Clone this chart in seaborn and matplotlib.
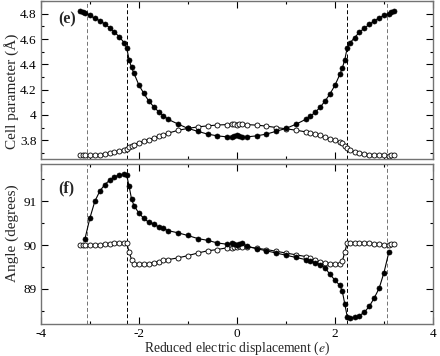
import numpy as np
import pandas as pd
import matplotlib
matplotlib.use("Agg")
import matplotlib.pyplot as plt
import seaborn as sns
from matplotlib.ticker import MultipleLocator, FormatStrFormatter

# reduced electric displacement (e), shared by both panels
disp = [-3.2, -3.15, -3.1, -3.0, -2.9, -2.8, -2.7, -2.6, -2.5, -2.4, -2.3, -2.25,
        -2.2, -2.15, -2.1, -2.0, -1.9, -1.8, -1.7, -1.6, -1.5, -1.4, -1.2, -1.0,
        -0.8, -0.6, -0.4, -0.2, -0.1, -0.05, 0.0,
        0.05, 0.1, 0.2, 0.4, 0.6, 0.8, 1.0, 1.2, 1.4, 1.5, 1.6, 1.7, 1.8, 1.9,
        2.0, 2.1, 2.15, 2.2, 2.25, 2.3, 2.4, 2.5, 2.6, 2.7, 2.8, 2.9, 3.0, 3.1,
        3.15, 3.2]

# panel (e): cell parameters (Angstrom)
cell_filled = [4.825, 4.815, 4.805, 4.787, 4.763, 4.745, 4.72, 4.69, 4.655, 4.617, 4.57, 4.53,
               4.435, 4.375, 4.328, 4.235, 4.17, 4.11, 4.065, 4.025, 3.993, 3.964, 3.927, 3.893,
               3.87, 3.848, 3.834, 3.826, 3.822, 3.83, 3.84,
               3.83, 3.822, 3.826, 3.834, 3.848, 3.87, 3.893, 3.925, 3.964, 3.99, 4.022, 4.062,
               4.11, 4.167, 4.234, 4.32, 4.37, 4.435, 4.53, 4.567, 4.61, 4.655, 4.686, 4.715,
               4.742, 4.766, 4.787, 4.80, 4.813, 4.824]
cell_open = [3.681, 3.681, 3.679, 3.679, 3.682, 3.685, 3.69, 3.695, 3.703, 3.712, 3.722, 3.733,
             3.745, 3.757, 3.765, 3.779, 3.792, 3.805, 3.816, 3.83, 3.843, 3.856, 3.878, 3.893,
             3.905, 3.913, 3.92, 3.923, 3.925, 3.925, 3.92,
             3.925, 3.925, 3.923, 3.919, 3.911, 3.90, 3.89, 3.879, 3.866, 3.858, 3.848, 3.837,
             3.824, 3.81, 3.80, 3.786, 3.774, 3.755, 3.737, 3.721, 3.707, 3.70, 3.691, 3.686,
             3.683, 3.681, 3.679, 3.678, 3.68, 3.681]

# panel (f): angle (degrees)
angle_filled = [np.nan, np.nan, 90.15, 90.62, 91.0, 91.23, 91.38, 91.48, 91.56, 91.6, 91.62, 91.6,
                91.34, 91.05, 90.9, 90.73, 90.61, 90.52, 90.48, 90.42, 90.38, 90.33, 90.28, 90.22,
                90.15, 90.11, 90.05, 90.02, 90.04, 90.03, 90.01,
                90.03, 90.06, 89.98, 89.92, 89.87, 89.82, 89.77, 89.72, 89.67, 89.63, 89.59, 89.55,
                89.48, 89.33, 89.2, 89.08, 88.95, 88.66, 88.37, 88.34, 88.35, 88.39, 88.47, 88.6,
                88.79, 89.01, 89.37, 89.84, np.nan, np.nan]
angle_open = [90.0, 90.0, 90.0, 90.0, 90.005, 90.01, 90.02, 90.03, 90.04, 90.05, 90.06, 90.05,
              89.84, 89.67, 89.58, 89.56, 89.57, 89.58, 89.6, 89.62, 89.65, 89.67, 89.71, 89.76,
              89.82, 89.87, 89.9, 89.94, 89.94, 89.96, 89.96,
              89.97, 89.96, 89.96, 89.93, 89.9, 89.86, 89.82, 89.78, 89.74, 89.7, 89.66, 89.62,
              89.59, 89.58, 89.57, 89.58, 89.63, 89.84, 90.05, 90.06, 90.06, 90.06, 90.05, 90.04,
              90.03, 90.02, 90.01, 90.01, 90.02, 90.02]

transitions = [-3.06, -2.25, 2.25, 3.06]
dash_colors = ["0.45", "black", "black", "0.45"]

sns.set_style("ticks")
plt.rcParams["font.family"] = ["Liberation Serif", "DejaVu Serif"]
plt.rcParams["mathtext.fontset"] = "stix"
plt.rcParams["axes.unicode_minus"] = False

fig = plt.figure(figsize=(4.4, 3.56), dpi=100)
ax1 = fig.add_axes([0.093, 0.553, 0.891, 0.444])
ax2 = fig.add_axes([0.093, 0.090, 0.891, 0.449])

df = pd.DataFrame({"disp": disp, "cell_f": cell_filled, "cell_o": cell_open,
                   "ang_f": angle_filled, "ang_o": angle_open})

filled_kw = dict(color="black", lw=0.8, marker="o", markersize=3.6,
                 markerfacecolor="black", markeredgecolor="black", markeredgewidth=0.5)
open_kw = dict(color="black", lw=0.8, marker="o", markersize=3.6,
               markerfacecolor="white", markeredgecolor="black", markeredgewidth=0.6)

for ax, f, o in [(ax1, "cell_f", "cell_o"), (ax2, "ang_f", "ang_o")]:
    sns.lineplot(data=df, x="disp", y=o, ax=ax, estimator=None, **open_kw)
    sns.lineplot(data=df, x="disp", y=f, ax=ax, estimator=None, **filled_kw)
    for xv, c in zip(transitions, dash_colors):
        ax.axvline(xv, color=c, lw=0.7, ls=(0, (4, 2.5)), zorder=1)
    ax.set_xlim(-4, 4)
    ax.xaxis.set_major_locator(MultipleLocator(2))
    ax.xaxis.set_minor_locator(MultipleLocator(1))
    ax.tick_params(which="both", direction="in", top=True, right=True,
                   labelsize=9.5, width=0.8, colors="black", pad=3)
    ax.tick_params(which="major", length=5)
    ax.tick_params(which="minor", length=2.5)
    for s in ax.spines.values():
        s.set_linewidth(1.0)
        s.set_color("0.45")

ax1.set_ylim(3.65, 4.9)
ax1.yaxis.set_major_locator(MultipleLocator(0.2))
ax1.yaxis.set_minor_locator(MultipleLocator(0.1))
ax1.yaxis.set_major_formatter(FormatStrFormatter("%g"))
ax1.set_xlabel("")
ax1.tick_params(labelbottom=False)
ax1.set_ylabel("Cell parameter (Å)", fontsize=11)
ax1.yaxis.set_label_coords(-0.057, 0.43)
ax1.text(0.045, 0.86, "(e)", transform=ax1.transAxes, fontsize=11.5, fontweight="bold")

ax2.set_ylim(88.2, 91.85)
ax2.yaxis.set_major_locator(MultipleLocator(1))
ax2.yaxis.set_minor_locator(MultipleLocator(0.5))
ax2.yaxis.set_major_formatter(FormatStrFormatter("%g"))
ax2.set_ylabel("Angle (degrees)", fontsize=11)
ax2.yaxis.set_label_coords(-0.057, 0.57)
ax2.set_xlabel("Reduced electric displacement ($e$)", fontsize=9.8)
ax2.xaxis.set_label_coords(0.5, -0.1)
ax2.text(0.045, 0.82, "(f)", transform=ax2.transAxes, fontsize=11.5, fontweight="bold")

fig.savefig("out.png", dpi=100)
